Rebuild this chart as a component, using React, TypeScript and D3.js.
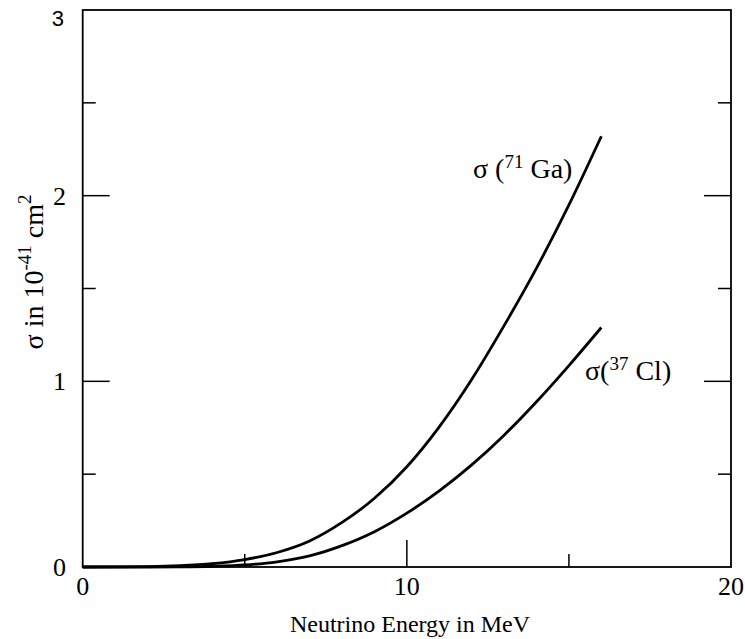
import React from "react";
import * as d3 from "d3";

const energies = [0, 1, 2, 3, 4, 5, 6, 7, 8, 9, 10, 11, 12, 13, 14, 15, 16];
const gaValues = [0, 0.0005, 0.002, 0.007, 0.018, 0.04, 0.078, 0.14, 0.24, 0.37, 0.54, 0.755, 1.01, 1.3, 1.61, 1.95, 2.32];
const clValues = [0, 0, 0, 0.001, 0.004, 0.011, 0.028, 0.06, 0.115, 0.19, 0.29, 0.41, 0.55, 0.71, 0.89, 1.085, 1.29];
const xMajorTicks = [0, 10, 20];
const xMinorTicks = [5, 15];
const yMajorTicks = [0, 1, 2, 3];
const yMinorTicks = [0.5, 1.5, 2.5];

const W = 745, H = 639;
const L = 82.7, R = 731, T = 10, B = 567;

export default function App() {
  const x = d3.scaleLinear().domain([0, 20]).range([L, R]);
  const y = d3.scaleLinear().domain([0, 3]).range([B, T]);
  const line = d3.line<number>().x((_, i) => x(energies[i])).y((d) => y(d)).curve(d3.curveMonotoneX);
  const serif = "'Liberation Serif', 'Times New Roman', serif";
  const sans = "'Liberation Sans', Arial, sans-serif";
  return (
    <svg width={W} height={H} style={{ position: "absolute", left: 0, top: 0, background: "#fff" }}>
      <rect x={L} y={T} width={R - L} height={B - T} fill="none" stroke="#000" strokeWidth={1.8} />
      {xMajorTicks.slice(1, -1).map((t) => (
        <line key={"xm" + t} x1={x(t)} x2={x(t)} y1={B} y2={B - 27} stroke="#000" strokeWidth={1.5} />
      ))}
      {xMinorTicks.map((t) => (
        <line key={"xn" + t} x1={x(t)} x2={x(t)} y1={B} y2={B - 13} stroke="#000" strokeWidth={1.5} />
      ))}
      {yMajorTicks.slice(1, -1).map((t) => (
        <g key={"ym" + t}>
          <line x1={L} x2={L + 27} y1={y(t)} y2={y(t)} stroke="#000" strokeWidth={1.5} />
          <line x1={R} x2={R - 27} y1={y(t)} y2={y(t)} stroke="#000" strokeWidth={1.5} />
        </g>
      ))}
      {yMinorTicks.map((t) => (
        <g key={"yn" + t}>
          <line x1={L} x2={L + 13} y1={y(t)} y2={y(t)} stroke="#000" strokeWidth={1.5} />
          <line x1={R} x2={R - 13} y1={y(t)} y2={y(t)} stroke="#000" strokeWidth={1.5} />
        </g>
      ))}
      {xMajorTicks.map((t) => (
        <text key={"xl" + t} x={x(t)} y={595} textAnchor="middle" fontFamily={serif} fontSize={26}>{t}</text>
      ))}
      {yMajorTicks.map((t) =>
        t === 3 ? (
          <text key={"yl" + t} x={64} y={y(t) + 16} textAnchor="end" fontFamily={sans} fontSize={22}>{t}</text>
        ) : (
          <text key={"yl" + t} x={66} y={y(t)} dy="0.35em" textAnchor="end" fontFamily={serif} fontSize={26}>{t}</text>
        )
      )}
      <path d={line(gaValues) || ""} fill="none" stroke="#000" strokeWidth={2.8} />
      <path d={line(clValues) || ""} fill="none" stroke="#000" strokeWidth={2.8} />
      <text x={473} y={178} fontFamily={serif} fontSize={28}>
        σ (<tspan fontSize={19} dy={-10}>71</tspan><tspan dy={10}> Ga)</tspan>
      </text>
      <text x={585} y={380} fontFamily={serif} fontSize={28}>
        σ(<tspan fontSize={19} dy={-10}>37</tspan><tspan dy={10}> Cl)</tspan>
      </text>
      <text x={410} y={632} textAnchor="middle" fontFamily={serif} fontSize={24}>Neutrino Energy in MeV</text>
      <text transform={`translate(43,272) rotate(-90)`} textAnchor="middle" fontFamily={serif} fontSize={28}>
        σ in 10<tspan fontSize={19} dy={-12}>-41</tspan><tspan dy={12}> cm</tspan><tspan fontSize={19} dy={-12}>2</tspan>
      </text>
    </svg>
  );
}
